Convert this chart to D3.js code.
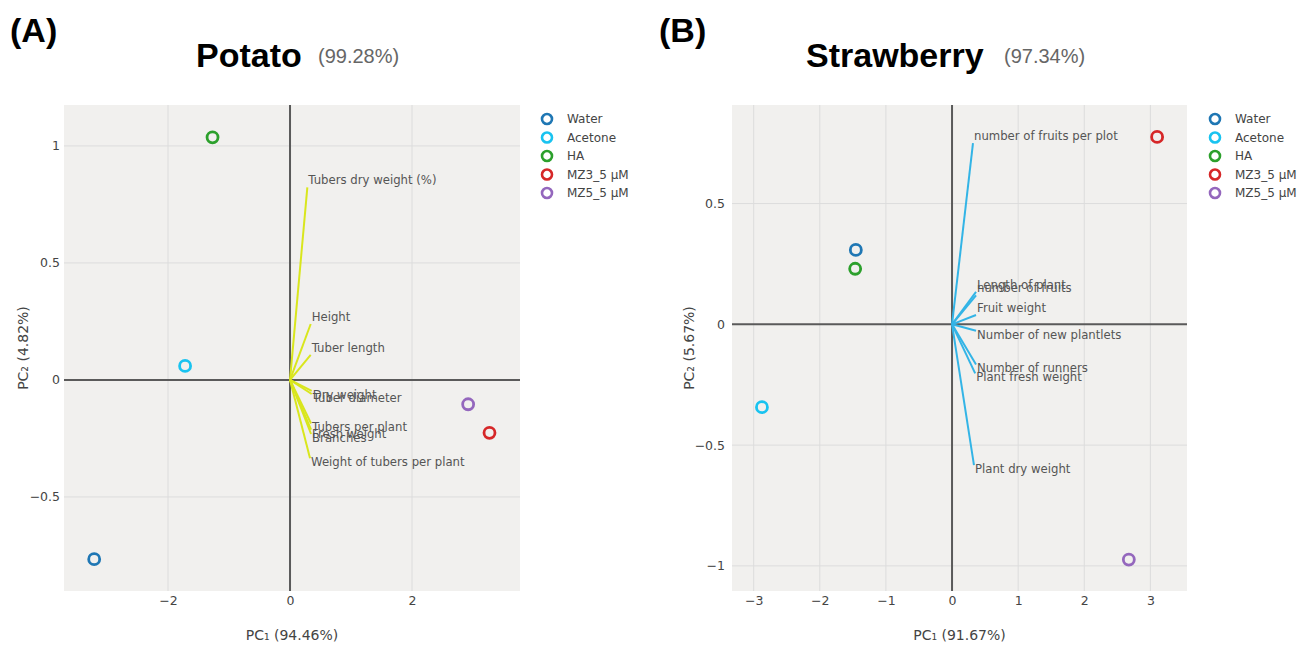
<!DOCTYPE html>
<html>
<head>
<meta charset="utf-8">
<script src="https://cdn.jsdelivr.net/npm/d3@7/dist/d3.min.js"></script>
<style>
  html, body { margin: 0; padding: 0; background: #ffffff; }
  svg { display: block; }
</style>
</head>
<body>
<svg id="chart" width="1309" height="645"></svg>
<script>
// Treatment groups shared by both PCA biplots
const groups = ["Water", "Acetone", "HA", "MZ3_5 µM", "MZ5_5 µM"];

// Potato: sample scores
const potatoPC1 = [-3.21, -1.72, -1.27, 3.27, 2.92];
const potatoPC2 = [-0.766, 0.06, 1.037, -0.226, -0.104];
// Potato: variable loadings
const potatoVars = ["Tubers dry weight (%)", "Height", "Tuber length", "Dry weight", "Tuber diameter",
                    "Tubers per plant", "Fresh weight", "Branches", "Weight of tubers per plant"];
const potatoLoad1 = [0.284, 0.339, 0.339, 0.355, 0.355, 0.345, 0.345, 0.345, 0.328];
const potatoLoad2 = [0.823, 0.239, 0.107, -0.047, -0.060, -0.186, -0.212, -0.231, -0.335];
const potatoXTicks = [-2, 0, 2];
const potatoYTicks = [-0.5, 0, 0.5, 1];

// Strawberry: sample scores
const strawPC1 = [-1.455, -2.875, -1.465, 3.102, 2.674];
const strawPC2 = [0.308, -0.343, 0.230, 0.776, -0.974];
// Strawberry: variable loadings
const strawVars = ["number of fruits per plot", "Length of plant", "number of fruits", "Fruit weight",
                   "Number of new plantlets", "Number of runners", "Plant fresh weight", "Plant dry weight"];
const strawLoad1 = [0.317, 0.363, 0.363, 0.363, 0.363, 0.363, 0.350, 0.332];
const strawLoad2 = [0.750, 0.134, 0.120, 0.0385, -0.0265, -0.166, -0.203, -0.583];
const strawXTicks = [-3, -2, -1, 0, 1, 2, 3];
const strawYTicks = [-1, -0.5, 0, 0.5];

const groupColors = ["#1f77b4", "#19c3f0", "#2ca02c", "#d62728", "#9467bd"];

const svg = d3.select("#chart");
const tickFont = "DejaVu Sans, Verdana, sans-serif";
const fmt = d3.format("");

function panel(cfg) {
  const g = svg.append("g");
  const x = d3.scaleLinear().domain(cfg.xDomain).range([cfg.left, cfg.right]);
  const y = d3.scaleLinear().domain(cfg.yDomain).range([cfg.bottom, cfg.top]);

  // headings
  g.append("text").attr("x", cfg.tagX).attr("y", 42)
    .attr("font-family", "Liberation Sans, Arial, sans-serif").attr("font-weight", "bold")
    .attr("font-size", 34).attr("fill", "#000").text(cfg.tag);
  g.append("text").attr("x", cfg.titleX).attr("y", 67)
    .attr("font-family", "Liberation Sans, Arial, sans-serif").attr("font-weight", "bold")
    .attr("font-size", 34).attr("fill", "#000").text(cfg.title);
  g.append("text").attr("x", cfg.pctX).attr("y", 63)
    .attr("font-family", "Liberation Sans, Arial, sans-serif")
    .attr("font-size", 20).attr("fill", "#666").text(cfg.pct);

  // plotting area
  g.append("rect").attr("x", cfg.left).attr("y", cfg.top)
    .attr("width", cfg.right - cfg.left).attr("height", cfg.bottom - cfg.top)
    .attr("fill", "#f1f0ee");

  // grid
  g.append("g").selectAll("line").data(cfg.xTicks.filter(d => d !== 0)).join("line")
    .attr("x1", d => x(d)).attr("x2", d => x(d)).attr("y1", cfg.top).attr("y2", cfg.bottom)
    .attr("stroke", "#dcdcdc").attr("stroke-width", 1);
  g.append("g").selectAll("line").data(cfg.yTicks.filter(d => d !== 0)).join("line")
    .attr("y1", d => y(d)).attr("y2", d => y(d)).attr("x1", cfg.left).attr("x2", cfg.right)
    .attr("stroke", "#dcdcdc").attr("stroke-width", 1);

  // zero lines
  g.append("line").attr("x1", x(0)).attr("x2", x(0)).attr("y1", cfg.top).attr("y2", cfg.bottom)
    .attr("stroke", "#5a5a5a").attr("stroke-width", 2);
  g.append("line").attr("y1", y(0)).attr("y2", y(0)).attr("x1", cfg.left).attr("x2", cfg.right)
    .attr("stroke", "#5a5a5a").attr("stroke-width", 2);

  // axes
  const ax = g.append("g").attr("transform", `translate(0,${cfg.bottom})`)
    .call(d3.axisBottom(x).tickValues(cfg.xTicks).tickFormat(fmt).tickSize(0).tickPadding(5));
  const ay = g.append("g").attr("transform", `translate(${cfg.left},0)`)
    .call(d3.axisLeft(y).tickValues(cfg.yTicks).tickFormat(fmt).tickSize(0).tickPadding(cfg.yPad));
  [ax, ay].forEach(a => {
    a.select(".domain").remove();
    a.selectAll("text").attr("font-family", tickFont).attr("font-size", 12.5).attr("fill", "#444");
  });

  // axis titles
  g.append("text").attr("x", (cfg.left + cfg.right) / 2).attr("y", 640)
    .attr("text-anchor", "middle").attr("font-family", tickFont).attr("font-size", 14)
    .attr("fill", "#444").text(cfg.xTitle);
  g.append("text")
    .attr("transform", `translate(${cfg.yTitleX},${(cfg.top + cfg.bottom) / 2}) rotate(-90)`)
    .attr("text-anchor", "middle").attr("font-family", tickFont).attr("font-size", 14)
    .attr("fill", "#444").text(cfg.yTitle);

  // loading vectors
  const loads = cfg.vars.map((v, i) => ({ name: v, a: cfg.l1[i], b: cfg.l2[i] }));
  g.append("g").selectAll("line").data(loads).join("line")
    .attr("x1", x(0)).attr("y1", y(0))
    .attr("x2", d => x(d.a)).attr("y2", d => y(d.b))
    .attr("stroke", cfg.loadColor).attr("stroke-width", 2);
  g.append("g").selectAll("text").data(loads).join("text")
    .attr("x", d => x(d.a) + 1)
    .attr("y", d => y(d.b) + (d.b >= 0 ? -3 : 8))
    .attr("font-family", tickFont).attr("font-size", 11.7).attr("fill", "#555")
    .text(d => d.name);

  // sample scores
  const pts = groups.map((gname, i) => ({ g: gname, c: groupColors[i], px: cfg.pc1[i], py: cfg.pc2[i] }));
  g.append("g").selectAll("circle").data(pts).join("circle")
    .attr("cx", d => x(d.px)).attr("cy", d => y(d.py)).attr("r", 5.5)
    .attr("fill", "none").attr("stroke", d => d.c).attr("stroke-width", 2.8);

  // legend
  const lg = g.append("g").attr("transform", `translate(${cfg.legendX},119)`);
  const items = lg.selectAll("g").data(groups).join("g")
    .attr("transform", (d, i) => `translate(0,${i * 18.5})`);
  items.append("circle").attr("r", 5).attr("fill", "none")
    .attr("stroke", (d, i) => groupColors[i]).attr("stroke-width", 2.6);
  items.append("text").attr("x", 20).attr("y", 4.2)
    .attr("font-family", tickFont).attr("font-size", 12).attr("fill", "#444").text(d => d);
}

panel({
  tag: "(A)", tagX: 10, title: "Potato", titleX: 196, pct: "(99.28%)", pctX: 318,
  left: 64, right: 520, top: 105, bottom: 591,
  xDomain: [-3.705, 3.77], yDomain: [-0.902, 1.175],
  xTicks: potatoXTicks, yTicks: potatoYTicks, yPad: 4,
  xTitle: "PC\u2081 (94.46%)", yTitle: "PC\u2082 (4.82%)", yTitleX: 28,
  pc1: potatoPC1, pc2: potatoPC2,
  vars: potatoVars, l1: potatoLoad1, l2: potatoLoad2, loadColor: "#d9e61c",
  legendX: 547
});

panel({
  tag: "(B)", tagX: 659, title: "Strawberry", titleX: 806, pct: "(97.34%)", pctX: 1004,
  left: 732, right: 1187, top: 105, bottom: 591,
  xDomain: [-3.328, 3.554], yDomain: [-1.104, 0.908],
  xTicks: strawXTicks, yTicks: strawYTicks, yPad: 7,
  xTitle: "PC\u2081 (91.67%)", yTitle: "PC\u2082 (5.67%)", yTitleX: 694,
  pc1: strawPC1, pc2: strawPC2,
  vars: strawVars, l1: strawLoad1, l2: strawLoad2, loadColor: "#33b4e6",
  legendX: 1215
});
</script>
</body>
</html>
